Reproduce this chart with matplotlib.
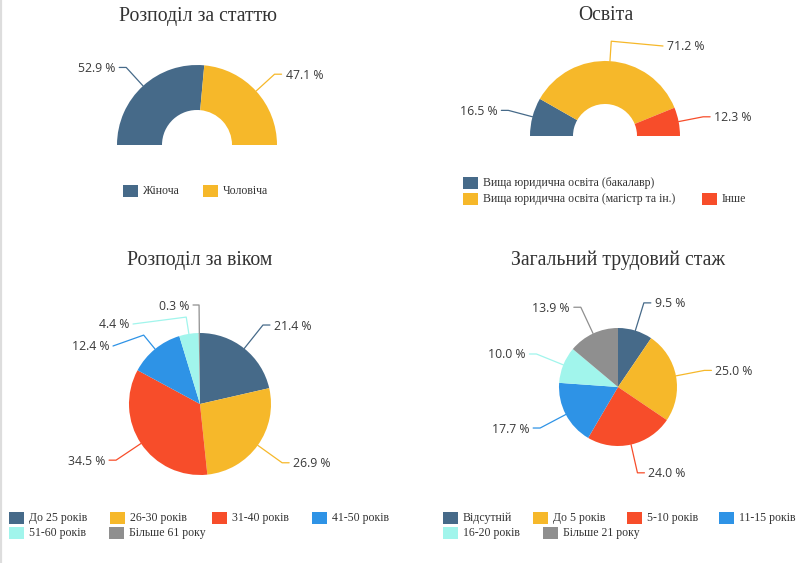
import math
import matplotlib
matplotlib.use("Agg")
import matplotlib.pyplot as plt
from matplotlib.patches import Rectangle

# ---------------- data ----------------
gender_labels = ["Жіноча", "Чоловіча"]
gender_values = [52.9, 47.1]

edu_labels = ["Вища юридична освіта (бакалавр)",
              "Вища юридична освіта (магістр та ін.)",
              "Інше"]
edu_values = [16.5, 71.2, 12.3]

age_labels = ["До 25 років", "26-30 років", "31-40 років", "41-50 років",
              "51-60 років", "Більше 61 року"]
age_values = [21.4, 26.9, 34.5, 12.4, 4.4, 0.3]

exp_labels = ["Відсутній", "До 5 років", "5-10 років", "11-15 років",
              "16-20 років", "Більше 21 року"]
exp_values = [9.5, 25.0, 24.0, 17.7, 10.0, 13.9]

titles = ["Розподіл за статтю", "Освіта", "Розподіл за віком",
          "Загальний трудовий стаж"]

# ---------------- style ----------------
COLORS = ["#466a89", "#f6b82a", "#f74d2a", "#2e93e6", "#a1f5ec", "#8f8f8f"]
TITLE_FONT = "Liberation Serif"
LABEL_FONT = "Open Sans"
LEG_FONT = "Liberation Serif"
TXT = "#333333"

W, H = 800, 563
fig = plt.figure(figsize=(W / 100, H / 100), dpi=100)
ax = fig.add_axes([0, 0, 1, 1])


def Y(py):
    return H - py


def title(x, y, s):
    ax.text(x, Y(y), s, ha="center", va="center", fontsize=14.2,
            family=TITLE_FONT, color=TXT)


def legend(items, colors):
    # items: list of (x, y, label)
    for (x, y, lab), c in zip(items, colors):
        ax.add_patch(Rectangle((x, Y(y) - 6), 15, 12, facecolor=c,
                               edgecolor="none"))
        ax.text(x + 20, Y(y), lab, ha="left", va="center",
                fontsize=8.5, family=LEG_FONT, color=TXT)


def mid_angles(values, start, span):
    tot = sum(values)
    out, acc = [], 0.0
    for v in values:
        out.append(start - (acc + v / 2) / tot * span)
        acc += v
    return out


def leaders(cx, cy, r, values, start, span, elbow, colors, overrides=None):
    overrides = overrides or {}
    angs = mid_angles(values, start, span)
    for i, (a, v) in enumerate(zip(angs, values)):
        c = colors[i]
        ar = math.radians(a)
        er = elbow
        end = None
        if i in overrides:
            er, end = overrides[i]
        p0 = (cx + r * math.cos(ar), cy - r * math.sin(ar))
        p1 = (cx + er * math.cos(ar), cy - er * math.sin(ar))
        if end is None:
            side = 1 if math.cos(ar) >= 0 else -1
            p2 = (p1[0] + side * 7, p1[1])
        else:
            p2 = end
            side = 1 if p2[0] >= p1[0] else -1
        ax.plot([p0[0], p1[0], p2[0]], [Y(p0[1]), Y(p1[1]), Y(p2[1])],
                color=c, lw=0.9, solid_capstyle="round")
        ax.text(p2[0] + side * 4, Y(p2[1]) - 1, f"{v:.1f} %",
                ha="left" if side > 0 else "right", va="center",
                fontsize=8.8, family=LABEL_FONT, color="#3a3a3a")


def half_donut(cx, cy, r, rin, values, colors):
    vals = list(values) + [sum(values)]
    cols = list(colors[:len(values)]) + ["none"]
    wedges, _ = ax.pie(vals, colors=cols, center=(cx, Y(cy)), radius=r,
                       startangle=180, counterclock=False, frame=True,
                       wedgeprops=dict(width=r - rin, linewidth=0))
    wedges[-1].set_visible(False)


def full_pie(cx, cy, r, values, colors):
    ax.pie(values, colors=colors[:len(values)], center=(cx, Y(cy)), radius=r,
           startangle=90, counterclock=False, frame=True,
           wedgeprops=dict(linewidth=0))


# ---- chart 1: gender ----
title(198, 17, titles[0])
half_donut(197, 145, 80, 35, gender_values, COLORS)
leaders(197, 145, 80, gender_values, 180, 180, 105, COLORS)
legend([(123, 191, gender_labels[0]), (203, 191, gender_labels[1])], COLORS)

# ---- chart 2: education ----
title(606, 15, titles[1])
half_donut(605, 136, 75, 32, edu_values, COLORS)
leaders(605, 136, 75, edu_values, 180, 180, 100, COLORS,
        overrides={1: (95, (663, 46))})
legend([(463, 183, edu_labels[0]), (463, 199, edu_labels[1]),
        (702, 199, edu_labels[2])], COLORS)

# ---- chart 3: age ----
title(200, 260, titles[2])
full_pie(200, 404, 71, age_values, COLORS)
leaders(200, 404, 71, age_values, 90, 360, 101, COLORS,
        overrides={3: (89, (113, 346)), 4: (88, (133, 324)),
                   5: (99, (193, 305))})
legend([(9, 518, age_labels[0]), (110, 518, age_labels[1]),
        (212, 518, age_labels[2]), (312, 518, age_labels[3]),
        (9, 533, age_labels[4]), (109, 533, age_labels[5])], COLORS)

# ---- chart 4: experience ----
title(618, 260, titles[3])
full_pie(618, 387, 59, exp_values, COLORS)
leaders(618, 387, 59, exp_values, 90, 360, 88, COLORS)
legend([(443, 518, exp_labels[0]), (533, 518, exp_labels[1]),
        (627, 518, exp_labels[2]), (719, 518, exp_labels[3]),
        (443, 533, exp_labels[4]), (543, 533, exp_labels[5])], COLORS)

# left border line
ax.plot([0.8, 0.8], [0, H], color="#dddddd", lw=1.6)

ax.set_xlim(0, W)
ax.set_ylim(0, H)
ax.set_aspect("auto")
ax.axis("off")
fig.savefig("out.png", dpi=100, facecolor="white")
